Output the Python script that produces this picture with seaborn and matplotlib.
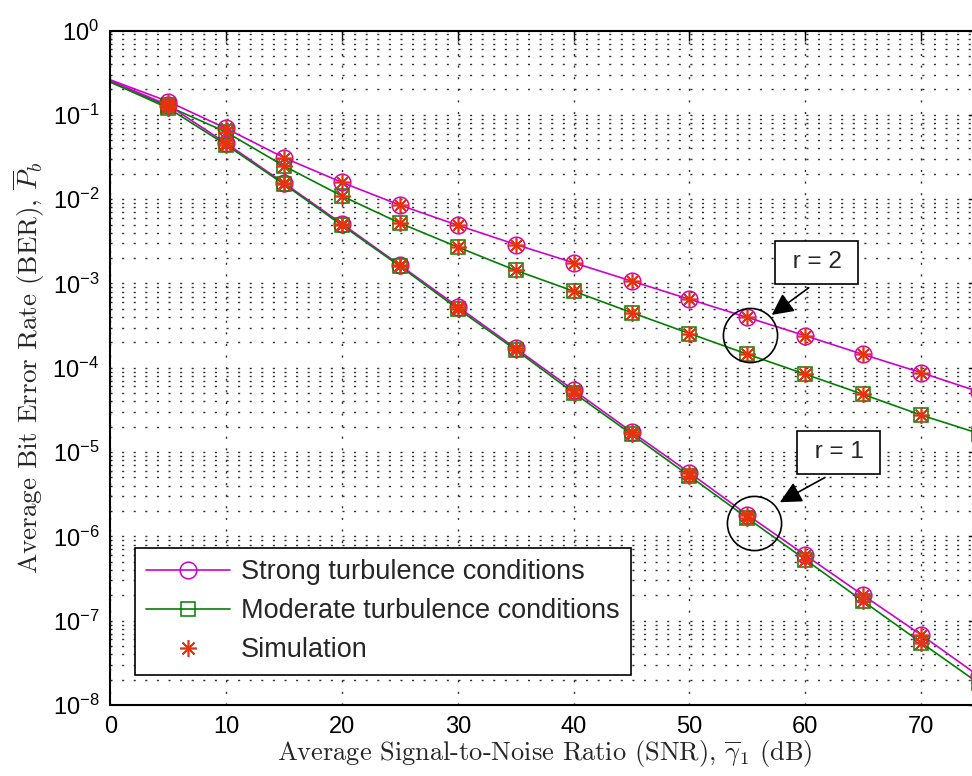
import numpy as np
import pandas as pd
import matplotlib
matplotlib.use("Agg")
import matplotlib.pyplot as plt
import seaborn as sns
from matplotlib.lines import Line2D
from matplotlib.ticker import LogLocator, NullFormatter

# ---------------- data ----------------
snr_db = [0, 5, 10, 15, 20, 25, 30, 35, 40, 45, 50, 55, 60, 65, 70, 75]
strong_r2 = [0.26, 0.144, 0.069, 0.031, 0.0158, 0.0085, 0.0049, 0.0029, 0.00176,
             0.00107, 0.00065, 0.000396, 0.000240, 0.000144, 0.0000876, 0.0000519]
moderate_r2 = [0.245, 0.126, 0.0624, 0.0247, 0.0109, 0.0052, 0.0027, 0.00143, 0.00081,
               0.000452, 0.000255, 0.000145, 0.0000839, 0.0000483, 0.0000275, 0.0000166]
strong_r1 = [0.255, 0.13, 0.046, 0.0155, 0.0051, 0.00165, 0.00053, 0.00017, 0.0000543,
             0.0000174, 5.7e-6, 1.8e-6, 6.0e-7, 2.0e-7, 6.8e-8, 2.2e-8]
moderate_r1 = [0.245, 0.12, 0.044, 0.015, 0.0049, 0.0016, 0.0005, 0.000163, 0.0000505,
               0.0000163, 5.2e-6, 1.65e-6, 5.3e-7, 1.7e-7, 5.5e-8, 1.8e-8]
marker_snr = snr_db[1:]
sim_strong_r2 = strong_r2[1:]
sim_moderate_r2 = moderate_r2[1:]
sim_strong_r1 = strong_r1[1:]
sim_moderate_r1 = moderate_r1[1:]

legend_labels = ["Strong turbulence conditions", "Moderate turbulence conditions", "Simulation"]
x_ticks = [0, 10, 20, 30, 40, 50, 60, 70]

MAG = "#D000D0"
GRN = "#008000"
RED = "#E5330F"

sns.set_style("white")
plt.rcParams["font.family"] = ["Liberation Sans", "DejaVu Sans"]
plt.rcParams["mathtext.fontset"] = "custom"
plt.rcParams["mathtext.rm"] = "Liberation Sans"
plt.rcParams["mathtext.it"] = "Liberation Sans:italic"
plt.rcParams["mathtext.bf"] = "Liberation Sans:bold"

fig = plt.figure(figsize=(9.72, 7.76), dpi=100)
ax = fig.add_axes([0.1136, 0.0915, 1.0072 - 0.1136, 0.9606 - 0.0915])

# lines
for ys, col in [(strong_r2, MAG), (moderate_r2, GRN), (strong_r1, MAG), (moderate_r1, GRN)]:
    sns.lineplot(x=snr_db, y=ys, color=col, lw=1.2, ax=ax, estimator=None, sort=False)

# analytical markers
for ys, col, mk, ms in [(strong_r2, MAG, "o", 12), (moderate_r2, GRN, "s", 10),
                        (strong_r1, MAG, "o", 12), (moderate_r1, GRN, "s", 10)]:
    sns.lineplot(x=marker_snr, y=ys[1:], color=col, linestyle="", marker=mk, ms=ms,
                 markerfacecolor="none", markeredgecolor=col, markeredgewidth=1.1,
                 ax=ax, estimator=None, sort=False)

# simulation markers
for ys in [sim_strong_r2, sim_moderate_r2, sim_strong_r1, sim_moderate_r1]:
    sns.lineplot(x=marker_snr, y=ys, color=RED, linestyle="", marker=(8, 2, 0), ms=12,
                 markeredgecolor=RED, markeredgewidth=1.2, ax=ax, estimator=None, sort=False)

ax.set_yscale("log")
ax.set_xlim(0, 75)
ax.set_ylim(1e-8, 1)
ax.xaxis.set_major_locator(plt.FixedLocator(x_ticks))
ax.yaxis.set_major_locator(LogLocator(base=10, numticks=20))
ax.yaxis.set_minor_locator(LogLocator(base=10, subs=np.arange(2, 10), numticks=100))
ax.yaxis.set_minor_formatter(NullFormatter())

grid_ls = (0, (1.5, 6.85))
ax.grid(True, which="major", axis="both", color="#303030", lw=1.0, linestyle=grid_ls)
ax.grid(True, which="minor", axis="y", color="#303030", lw=1.0, linestyle=grid_ls)
ax.set_axisbelow(True)

for s in ax.spines.values():
    s.set_color("black")
    s.set_linewidth(1.5)
ax.tick_params(which="both", direction="in", top=True, right=True, colors="black",
               labelsize=17)
ax.tick_params(which="major", length=7, width=1.0, pad=8)
ax.tick_params(which="minor", length=4, width=0.8)

ax.set_xlabel("Average Signal-to-Noise Ratio (SNR), $\\overline{\\gamma}_1$ (dB)",
              fontfamily="cmr10", math_fontfamily="cm", fontsize=19, labelpad=0)
ax.set_ylabel("Average Bit Error Rate (BER), $\\overline{P}_b$",
              fontfamily="cmr10", math_fontfamily="cm", fontsize=19.5, labelpad=4)

# legend
handles = [
    Line2D([], [], color=MAG, lw=1.2, marker="o", ms=12, mfc="none", mec=MAG, mew=1.1),
    Line2D([], [], color=GRN, lw=1.2, marker="s", ms=10, mfc="none", mec=GRN, mew=1.1),
    Line2D([], [], color=RED, lw=0, linestyle="", marker=(8, 2, 0), ms=12, mec=RED, mew=1.2),
]
leg = ax.legend(handles, legend_labels, loc="upper left", bbox_to_anchor=(0.0283, 0.2328),
                borderaxespad=0, fontsize=19.5, frameon=True, fancybox=False,
                edgecolor="black", framealpha=1, handlelength=3.1, handletextpad=0.4,
                borderpad=0.42, labelspacing=0.48)
leg.get_frame().set_linewidth(1.2)

# annotations
for txt, box_xy, tail_xy, tip_xy, circ_xy in [
    (" r = 2 ", (61.0, 1.78e-3), (60.3, 8.9e-4), (57.1, 4.24e-4), (55.2, 2.45e-4)),
    (" r = 1 ", (62.9, 9.9e-6), (61.7, 5.0e-6), (57.8, 2.54e-6), (55.6, 1.43e-6)),
]:
    ax.text(box_xy[0], box_xy[1], txt, fontsize=17.5, ha="center", va="center",
            bbox=dict(boxstyle="square,pad=0.42", fc="white", ec="black", lw=1.2), zorder=6)
    ax.annotate("", xy=tip_xy, xytext=tail_xy,
                arrowprops=dict(arrowstyle="-|>,head_length=0.6,head_width=0.3",
                                color="black", lw=1.2, mutation_scale=22,
                                shrinkA=0, shrinkB=0), zorder=6)
    ax.plot([circ_xy[0]], [circ_xy[1]], marker="o", ms=39, mfc="none", mec="black",
            mew=1.2, zorder=6)

fig.savefig("out.png", dpi=100)
